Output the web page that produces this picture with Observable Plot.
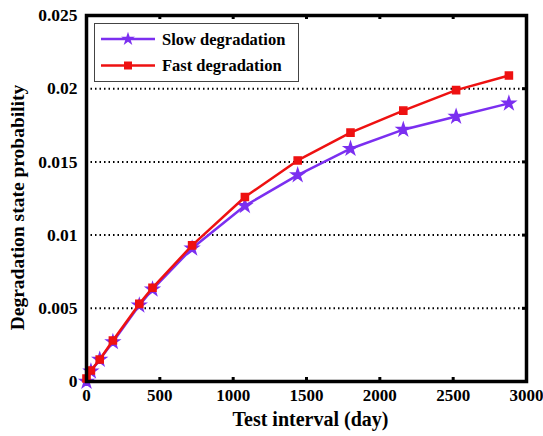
<!DOCTYPE html>
<html><head><meta charset="utf-8">
<script src="https://cdn.jsdelivr.net/npm/d3@7"></script>
<script src="https://cdn.jsdelivr.net/npm/@observablehq/plot@0.6"></script>
<style>
body{margin:0;background:#fff}
#chart{position:relative;width:543px;height:436px}
</style>
</head><body><div id="chart"></div>
<script>
const days = [0, 30, 90, 180, 360, 450, 720, 1080, 1440, 1800, 2160, 2520, 2880];
const slowDegradation = [0, 0.0007, 0.0015, 0.0027, 0.0052, 0.0063, 0.0091, 0.0120, 0.0141, 0.0159, 0.0172, 0.0181, 0.0190];
const fastDegradation = [0.0002, 0.00075, 0.0015, 0.0028, 0.0053, 0.0064, 0.0093, 0.0126, 0.0151, 0.0170, 0.0185, 0.0199, 0.0209];
const seriesNames = ["Slow degradation", "Fast degradation"];
const seriesColors = ["#7b2ff0", "#ee1111"];
const xTicks = [0, 500, 1000, 1500, 2000, 2500, 3000];
const yTicks = [0, 0.005, 0.01, 0.015, 0.02, 0.025];
const yTickLabels = ["0", "0.005", "0.01", "0.015", "0.02", "0.025"];
const gridTicks = [0.005, 0.01, 0.015, 0.02];
const xLabel = "Test interval (day)";
const yLabel = "Degradation state probability";

const font = "'Liberation Serif','Times New Roman',serif";
const slowData = days.map((d, i) => ({day: d, p: slowDegradation[i]}));
const fastData = days.map((d, i) => ({day: d, p: fastDegradation[i]}));
const yFmt = v => yTickLabels[yTicks.indexOf(v)] ?? String(v);

const plot = Plot.plot({
  width: 543, height: 436,
  marginLeft: 86, marginRight: 17, marginTop: 15, marginBottom: 55,
  style: {fontFamily: font, fontWeight: "bold", background: "#fff", color: "#000"},
  x: {domain: [0, 3000]},
  y: {domain: [0, 0.025]},
  marks: [
    Plot.ruleY(gridTicks, {stroke: "#000", strokeWidth: 2, strokeDasharray: "1.5,3"}),
    Plot.line(slowData, {x: "day", y: "p", stroke: seriesColors[0], strokeWidth: 2.5}),
    Plot.dot(slowData, {x: "day", y: "p", symbol: "star", r: 4, fill: seriesColors[0], stroke: seriesColors[0]}),
    Plot.line(fastData, {x: "day", y: "p", stroke: seriesColors[1], strokeWidth: 2.5}),
    Plot.dot(fastData, {x: "day", y: "p", symbol: "square", r: 4, fill: seriesColors[1], stroke: seriesColors[1]}),
    Plot.axisX({ticks: xTicks, tickSize: 0, tickPadding: 7, fontSize: 17, label: null, tickFormat: d => String(d)}),
    Plot.tickX(xTicks, {insetTop: 362, strokeWidth: 3}),
    Plot.tickX(xTicks, {insetBottom: 362, strokeWidth: 3}),
    Plot.axisY({ticks: yTicks, tickSize: 0, tickPadding: 9, fontSize: 17.5, label: null, tickFormat: yFmt}),
    Plot.tickY(yTicks, {insetLeft: 436, strokeWidth: 3}),
    Plot.frame({stroke: "#000", strokeWidth: 3.5}),
    Plot.text([xLabel], {frameAnchor: "bottom", textAnchor: "middle", lineAnchor: "middle", dx: 4, dy: 38, fontSize: 20, fontWeight: "bold"}),
    Plot.text([yLabel], {frameAnchor: "left", textAnchor: "middle", lineAnchor: "middle", rotate: -90, dx: -69, dy: 9, fontSize: 19.5, fontWeight: "bold"})
  ]
});
document.getElementById("chart").appendChild(plot);

// legend
const svg = d3.select(plot);
const lg = svg.append("g").attr("font-family", font).attr("font-weight", "bold");
lg.append("rect").attr("x", 94.5).attr("y", 23.5).attr("width", 204).attr("height", 58)
  .attr("fill", "#fff").attr("stroke", "#444").attr("stroke-width", 1);
const symbols = [d3.symbolStar, d3.symbolSquare];
const symSizes = [60, 64];
seriesNames.forEach((name, i) => {
  const y = 39 + i * 26.5;
  lg.append("line").attr("x1", 101).attr("x2", 155).attr("y1", y).attr("y2", y)
    .attr("stroke", seriesColors[i]).attr("stroke-width", 2.5);
  lg.append("path").attr("d", d3.symbol(symbols[i], symSizes[i])())
    .attr("transform", `translate(128,${y})`).attr("fill", seriesColors[i]);
  lg.append("text").attr("x", 162).attr("y", y).attr("dy", "0.35em")
    .attr("text-anchor", "start").attr("font-size", 16.5).attr("fill", "#000").text(name);
});
</script>
</body></html>
